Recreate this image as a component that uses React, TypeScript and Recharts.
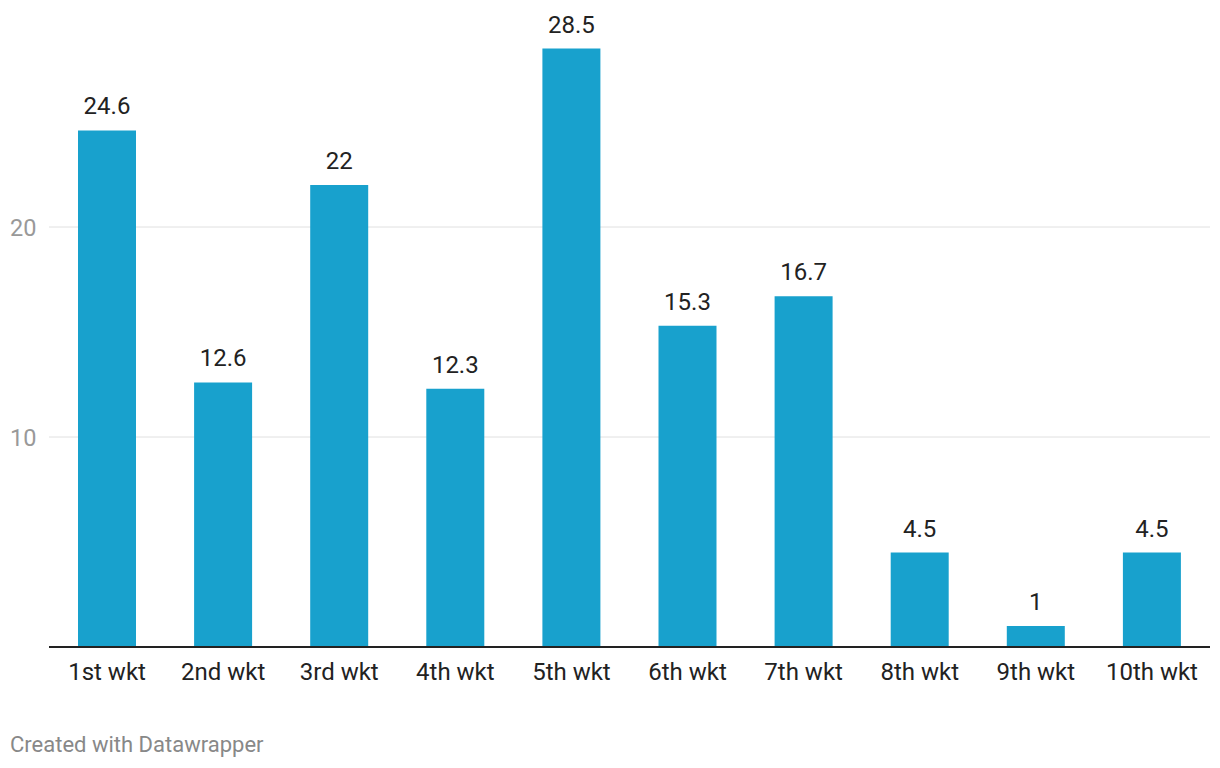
import React from "react";
import { BarChart, Bar, XAxis, YAxis, CartesianGrid, LabelList } from "recharts";

const categories = ["1st wkt", "2nd wkt", "3rd wkt", "4th wkt", "5th wkt", "6th wkt", "7th wkt", "8th wkt", "9th wkt", "10th wkt"];
const values = [24.6, 12.6, 22, 12.3, 28.5, 15.3, 16.7, 4.5, 1, 4.5];
const yTicks = [10, 20];

const data = categories.map((c, i) => ({ name: c, value: values[i] }));

const YTick = (props: any) => {
  const { y, payload } = props;
  return (
    <text x={10} y={y} dy={8.5} fill="#999" fontSize={23.5} fontFamily="Roboto" textAnchor="start">
      {payload.value}
    </text>
  );
};

const XTick = (props: any) => {
  const { x, y, payload } = props;
  return (
    <text x={x} y={y} dy={25} fill="#222" fontSize={24} fontFamily="Roboto" textAnchor="middle">
      {payload.value}
    </text>
  );
};

const gridGen = (args: any) => {
  const scale = args?.yAxis?.scale;
  if (scale && typeof scale === "function") return yTicks.map((t) => scale(t));
  if (scale && typeof scale.map === "function") return yTicks.map((t) => scale.map(t));
  return [];
};

export default function App() {
  return (
    <div style={{ position: "absolute", left: 0, top: 0, width: 1220, height: 768, background: "#fff", fontFamily: "Roboto" }}>
      <BarChart
        width={1220}
        height={700}
        data={data}
        margin={{ top: 17, right: 10, bottom: 13, left: 0 }}
        barCategoryGap={0}
      >
        <CartesianGrid vertical={false} stroke="#e0e0e0" strokeWidth={1} horizontalCoordinatesGenerator={gridGen} />
        <YAxis
          width={49}
          domain={[0, 30]}
          ticks={yTicks}
          axisLine={false}
          tickLine={false}
          tick={<YTick />}
        />
        <XAxis
          dataKey="name"
          height={40}
          axisLine={{ stroke: "#222", strokeWidth: 2 }}
          tickLine={false}
          tick={<XTick />}
          interval={0}
        />
        <Bar dataKey="value" fill="#18a1cd" barSize={58} isAnimationActive={false}>
          <LabelList dataKey="value" position="top" offset={16} fill="#222" fontSize={24} fontFamily="Roboto" />
        </Bar>
      </BarChart>
      <div style={{ position: "absolute", left: 10, top: 732, fontSize: 22, color: "#888", fontFamily: "Roboto" }}>
        Created with Datawrapper
      </div>
    </div>
  );
}
